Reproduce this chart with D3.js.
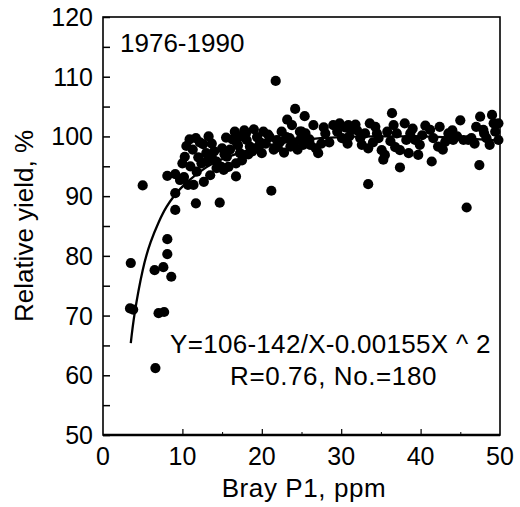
<!DOCTYPE html>
<html>
<head>
<meta charset="utf-8">
<script src="https://cdn.jsdelivr.net/npm/d3@7"></script>
<style>
  body { margin: 0; background: #fff; }
  svg { display: block; font-family: "Liberation Sans", Arial, sans-serif; }
</style>
</head>
<body>
<svg id="chart" width="520" height="507"></svg>
<script>
const brayP1 = [
  3.4, 3.8, 3.5, 5.0, 6.6, 6.5, 7.6, 7.0, 7.7, 8.1, 8.1, 8.6, 9.1, 9.1, 8.1, 9.1, 9.7, 10.7, 11.4, 11.7,
  14.7, 21.2, 12.7, 11.8, 16.75, 16.75, 14.3, 15.2, 15.8, 13.0,
  21.75, 24.2, 23.8, 25.0, 10.9, 11.7, 10.5, 10.3, 12.6, 13.7, 13.0, 12.4, 16.6, 16.8, 18.1, 18.5, 19.4, 20.2,
  19.6, 15.6, 14.9, 14.3, 17.25, 20.0, 21.9, 22.5, 23.1, 23.6, 24.8, 25.2,
  10.2, 11.0, 12.0, 13.5, 14.0, 15.0, 15.5, 16.0, 17.0, 17.5, 18.0, 18.8, 19.0, 19.8, 20.5, 21.0, 21.5, 22.0,
  22.8, 23.2, 24.0, 24.5, 25.5, 26.0, 26.8, 27.5, 10.0, 13.3, 11.3, 17.8,
  25.4, 26.5, 24.8, 25.2, 23.5, 26.1, 27.1, 36.4, 45.0, 47.5, 49.0, 33.4, 45.8, 47.4, 37.4, 41.4, 35.3, 29.0,
  29.8, 30.9, 31.3, 30.1, 32.4, 32.6, 33.4, 33.6, 34.3, 34.7, 35.1, 35.5, 36.6, 37.0, 37.4, 38.0, 38.2, 38.7,
  38.5, 39.3, 39.7, 39.9, 41.2, 41.6, 42.4, 42.2, 43.1, 44.1, 45.4, 46.4, 47.9, 48.3, 48.7, 49.2, 47.0, 49.8, 49.8,
  28.0, 28.5, 29.5, 30.5, 31.0, 31.8, 32.0, 33.0, 34.0, 35.8, 36.2, 36.8, 40.2, 40.6, 43.5, 44.6, 46.0, 48.0,
  49.4, 42.8,
  12.2, 13.8, 15.3, 16.3, 17.3, 18.3, 19.2, 20.8, 22.3, 27.8, 30.8, 34.5, 39.0, 44.0, 46.8
];
const relYield = [
  71.2, 71.0, 78.8, 91.8, 61.2, 77.6, 78.1, 70.4, 70.6, 82.8, 80.3, 76.5, 87.7, 90.5, 93.4, 93.7, 92.7, 91.9, 91.9, 88.8,
  88.9, 90.9, 92.4, 94.1, 93.3, 95.5, 94.7, 94.4, 94.9, 95.8,
  109.3, 104.6, 101.9, 100.8, 99.5, 99.7, 98.4, 96.6, 98.7, 98.8, 97.2, 95.5, 100.8, 99.1, 99.4, 98.3, 99.9, 100.8,
  98.3, 96.6, 94.9, 95.8, 97.2, 97.2, 99.4, 100.8, 99.9, 98.3, 99.4, 98.6,
  93.2, 95.0, 96.5, 93.5, 97.5, 98.0, 99.8, 97.8, 98.5, 96.0, 100.5, 97.5, 101.2, 99.0, 98.8, 99.9, 97.8, 98.2,
  97.3, 102.8, 99.0, 97.8, 100.5, 99.5, 98.0, 98.8, 95.5, 100.0, 97.8, 101.0,
  103.4, 101.9, 100.8, 99.7, 99.7, 98.6, 97.2, 103.9, 102.7, 103.3, 103.6, 92.0, 88.1, 95.2, 94.8, 95.8, 96.1, 101.9,
  102.2, 101.9, 101.1, 99.7, 99.7, 98.6, 98.0, 102.2, 101.6, 99.7, 97.7, 96.9, 101.9, 100.5, 97.7, 102.2, 99.4, 100.5,
  97.2, 99.4, 96.9, 98.6, 101.1, 99.7, 101.6, 98.3, 99.1, 99.4, 99.4, 99.7, 101.1, 99.7, 98.6, 102.2, 101.6, 102.2, 99.4,
  100.5, 99.0, 100.8, 101.5, 100.0, 102.0, 101.0, 100.5, 99.0, 100.8, 99.2, 98.2, 100.2, 101.8, 100.5, 100.0, 99.4, 100.5,
  100.8, 97.8,
  99.0, 96.2, 97.0, 99.5, 100.0, 97.0, 98.0, 100.3, 99.1, 101.5, 98.8, 100.5, 101.3, 101.0, 98.8
];

// fitted curve Y = 106 - 142/X - 0.00155X^2
const fitX = [3.5, 4, 5, 6, 7, 8, 9, 10, 12, 14, 16, 18, 20, 25, 30, 35, 40, 45, 50];
const fitY = [65.4, 70.5, 77.6, 82.3, 85.6, 88.2, 90.1, 91.6, 93.9, 95.6, 96.7, 97.6, 98.3, 99.4, 99.9, 100.0, 100.0, 99.7, 99.3];

const xTicks = [0, 10, 20, 30, 40, 50];
const yTicks = [50, 60, 70, 80, 90, 100, 110, 120];

const margin = {top: 17, right: 20, bottom: 72, left: 103};
const width = 520, height = 507;

const svg = d3.select("#chart");

const x = d3.scaleLinear().domain([0, 50]).range([margin.left, width - margin.right]);
const y = d3.scaleLinear().domain([50, 120]).range([height - margin.bottom, margin.top]);

// ticks pointing inwards
svg.append("g")
    .attr("transform", `translate(${margin.left},0)`)
    .call(d3.axisRight(y).tickValues(d3.range(50, 121, 5)).tickSize(7).tickFormat(""))
    .call(g => g.select(".domain").remove())
    .call(g => g.selectAll("line").attr("stroke-width", 1.5));

svg.append("g")
    .attr("transform", `translate(0,${height - margin.bottom})`)
    .call(d3.axisTop(x).tickValues(xTicks.slice(1, -1)).tickSize(6).tickFormat(""))
    .call(g => g.select(".domain").remove())
    .call(g => g.selectAll("line").attr("stroke-width", 1.2));

svg.append("g")
    .attr("transform", `translate(0,${height - margin.bottom})`)
    .call(d3.axisTop(x).tickValues([15, 25, 35, 45]).tickSize(3).tickFormat(""))
    .call(g => g.select(".domain").remove())
    .call(g => g.selectAll("line").attr("stroke-width", 1));

// tick labels
svg.append("g").selectAll("text")
    .data(yTicks)
    .join("text")
    .attr("x", margin.left - 10)
    .attr("y", d => y(d))
    .attr("dy", "0.36em")
    .attr("text-anchor", "end")
    .attr("font-size", 25)
    .text(d => d);

svg.append("g").selectAll("text")
    .data(xTicks)
    .join("text")
    .attr("x", d => x(d))
    .attr("y", height - margin.bottom + 30)
    .attr("text-anchor", "middle")
    .attr("font-size", 25)
    .text(d => d);

// frame
svg.append("rect")
    .attr("x", margin.left)
    .attr("y", margin.top)
    .attr("width", width - margin.left - margin.right)
    .attr("height", height - margin.top - margin.bottom)
    .attr("fill", "none")
    .attr("stroke", "#000")
    .attr("stroke-width", 1.6);

svg.append("line")
    .attr("x1", margin.left).attr("x2", width - margin.right)
    .attr("y1", y(50)).attr("y2", y(50))
    .attr("stroke", "#000").attr("stroke-width", 2.4);

// points
svg.append("g").selectAll("circle")
    .data(brayP1)
    .join("circle")
    .attr("cx", d => x(d))
    .attr("cy", (d, i) => y(relYield[i]))
    .attr("r", 5.1)
    .attr("fill", "#000");

// fitted line
const line = d3.line()
    .x((d, i) => x(fitX[i]))
    .y(d => y(d))
    .curve(d3.curveNatural);

svg.append("path")
    .datum(fitY)
    .attr("d", line)
    .attr("fill", "none")
    .attr("stroke", "#000")
    .attr("stroke-width", 2.3);

// annotations
svg.append("text")
    .attr("x", 120).attr("y", 52)
    .attr("font-size", 26)
    .text("1976-1990");

svg.append("text")
    .attr("x", 170).attr("y", 353)
    .attr("font-size", 26)
    .attr("letter-spacing", 0.3)
    .text("Y=106-142/X-0.00155X ^ 2");

svg.append("text")
    .attr("x", 230).attr("y", 385)
    .attr("font-size", 26)
    .attr("letter-spacing", 0.6)
    .text("R=0.76, No.=180");

// axis titles
svg.append("text")
    .attr("x", 304)
    .attr("y", 497)
    .attr("text-anchor", "middle")
    .attr("font-size", 26)
    .attr("letter-spacing", 0.6)
    .text("Bray P1, ppm");

svg.append("text")
    .attr("transform", `translate(33,${(margin.top + height - margin.bottom) / 2}) rotate(-90)`)
    .attr("text-anchor", "middle")
    .attr("font-size", 26)
    .text("Relative yield, %");
</script>
</body>
</html>
